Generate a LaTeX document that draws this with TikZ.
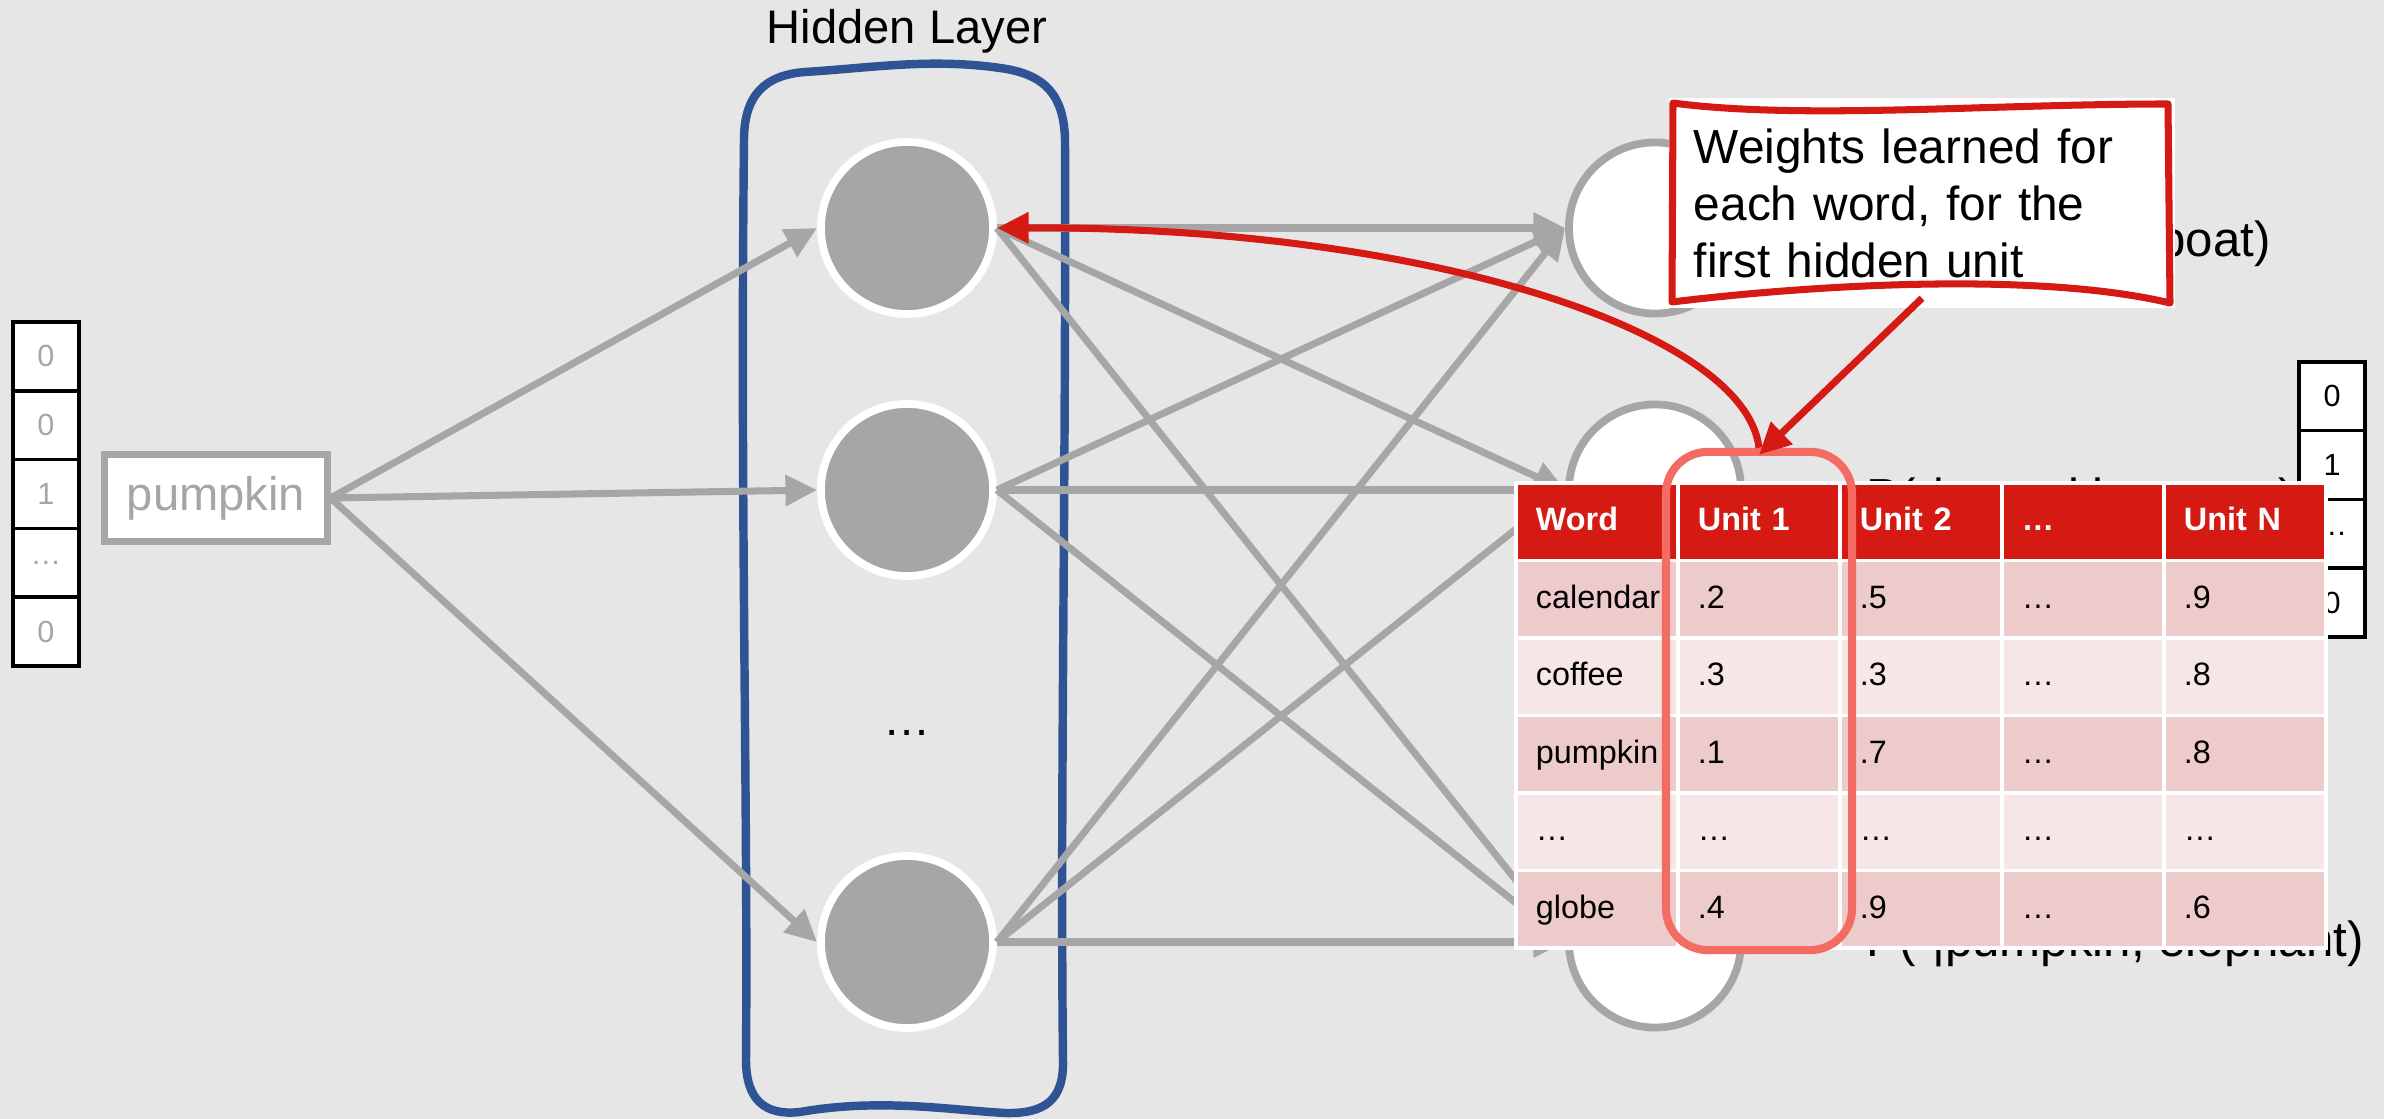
\documentclass[tikz,border=0pt]{standalone}
\usepackage{fontspec}
\setmainfont{Liberation Sans}
\usepackage{tikz}
\usetikzlibrary{arrows.meta,shapes.geometric,positioning,calc}

\definecolor{bggray}{RGB}{230,230,230}
\definecolor{linegray}{RGB}{166,166,166}
\definecolor{layerblue}{RGB}{47,84,150}
\definecolor{tabred}{RGB}{213,26,20}
\definecolor{salmon}{RGB}{242,108,100}
\definecolor{rowA}{RGB}{238,203,203}
\definecolor{rowB}{RGB}{247,230,230}

\begin{document}
\begin{tikzpicture}[x=0.01cm,y=-0.01cm,>={Triangle[length=9pt,width=8.5pt]},
  conn/.style={draw=linegray, line width=2pt, ->},
  redarrow/.style={draw=tabred, line width=2pt, ->},
  vcell/.style={rectangle, draw=black, line width=1pt, fill=white, inner sep=0pt,
    minimum width=0.66cm, minimum height=0.688cm, font=\fontsize{8.7}{10}\selectfont},
  wordbox/.style={rectangle, draw=linegray, line width=2pt, fill=white, text=linegray,
    minimum width=2.22cm, minimum height=0.86cm, font=\fontsize{13.4}{16}\selectfont},
  hidden/.style={circle, fill=linegray, draw=white, line width=2.2pt, minimum size=1.72cm},
  outnode/.style={ellipse, fill=white, draw=linegray, line width=2.2pt,
    minimum width=1.72cm, minimum height=1.71cm},
  outlabel/.style={anchor=base west, inner sep=0pt, font=\fontsize{14}{16}\selectfont},
  cell/.style={rectangle, draw=white, line width=1pt, inner sep=0pt,
    minimum width=1.62cm, minimum height=0.775cm, text width=1.22cm, align=left,
    text height=0.72em, text depth=0.2em, font=\fontsize{9.2}{10}\selectfont},
  headcell/.style={cell, fill=tabred, text=white, font=\bfseries\fontsize{9.2}{10}\selectfont},
  hilite/.style={rectangle, draw=salmon, line width=2.3pt, rounded corners=0.42cm,
    minimum width=1.86cm, minimum height=4.98cm},
  note/.style={rectangle, fill=white, inner sep=0pt, minimum width=5.06cm,
    minimum height=2.1cm, text width=4.56cm, align=left,
    font=\fontsize{13.6}{16.2}\selectfont}]
  \def\hx{907}
  \def\ox{1655}
  \fill[bggray] (0,0) rectangle (2384,1119);
  \useasboundingbox (0,0) rectangle (2384,1119);

  % hidden layer frame
  \draw[layerblue, line width=2.4pt, line join=round]
    (744,140) .. controls (744,95) and (765,75) .. (805,72)
    .. controls (870,68) and (930,58) .. (1000,68)
    .. controls (1045,74) and (1064,95) .. (1065,140)
    .. controls (1066,500) and (1060,800) .. (1063,1060)
    .. controls (1064,1100) and (1045,1114) .. (1005,1113)
    .. controls (950,1110) and (880,1098) .. (800,1112)
    .. controls (765,1116) and (746,1100) .. (746,1060)
    .. controls (748,800) and (740,500) .. (744,140) -- cycle;
  \node[font=\fontsize{13.4}{16}\selectfont] (layername) at (\hx,31) {Hidden Layer};

  % one-hot input
  \foreach \val [count=\n] in {0,0,1,…,0}
    \node[vcell, text=linegray] (in\n) at (46,{322+68.8*(\n-0.5)}) {\val};
  \node[wordbox] (word) at (216,498) {pumpkin};

  % units
  \foreach \n/\y in {1/228,2/490,3/942} {
    \node[hidden] (h\n) at (\hx,\y) {};
    \node[outnode] (o\n) at (\ox,\y) {};
  }
  \node[font=\fontsize{13.4}{16}\selectfont] (hdots) at (\hx,733) {…};

  \foreach \n in {1,2,3} {
    \draw[conn] (word.east) -- (h\n.west);
    \foreach \m in {1,2,3}
      \draw[conn] (h\n.east) -- (o\m.west);
  }

  \node[outlabel] (p1) at (1866,257) {P(·|pumpkin, boat)};
  \node[outlabel] (p2) at (1866,514) {P(·|pumpkin, water)};
  \node[outlabel] (p3) at (1866,957) {P(·|pumpkin, elephant)};

  \foreach \val [count=\n] in {0,1,…,0}
    \node[vcell] (res\n) at (2332,{362+68.75*(\n-0.5)}) {\val};

  % weight table
  \foreach \txt [count=\col from 0] in {Word,Unit 1,Unit 2,…,Unit N}
    \node[headcell] (th\col) at ({1597+162*\col},521.75) {\txt};
  \foreach \rowfill/\cells [count=\row] in {rowA/{calendar,.2,.5,…,.9},
      rowB/{coffee,.3,.3,…,.8}, rowA/{pumpkin,.1,.7,…,.8},
      rowB/{…,…,…,…,…}, rowA/{globe,.4,.9,…,.6}}
    \foreach \txt [count=\col from 0] in \cells
      \node[cell, fill=\rowfill] (t\row-\col) at ({1597+162*\col},{521.75+77.5*\row}) {\txt};

  \node[hilite] (hl) at (1759,701) {};

  % callout
  \node[note] (note) at (1922,203) {Weights learned for\\each word, for the\\first hidden unit};
  \draw[tabred, line width=2pt, line join=round]
    (1673,103) .. controls (1800,120) and (1990,104) .. (2168,104)
    -- (2170,303) .. controls (2040,272) and (1820,284) .. (1672,302) -- cycle;

  \draw[redarrow] ([yshift=3pt]note.south) -- ([yshift=-2pt]hl.north);
  \draw[redarrow] (hl.north) .. controls (1745,330) and (1420,226) .. (h1.east);
\end{tikzpicture}
\end{document}
